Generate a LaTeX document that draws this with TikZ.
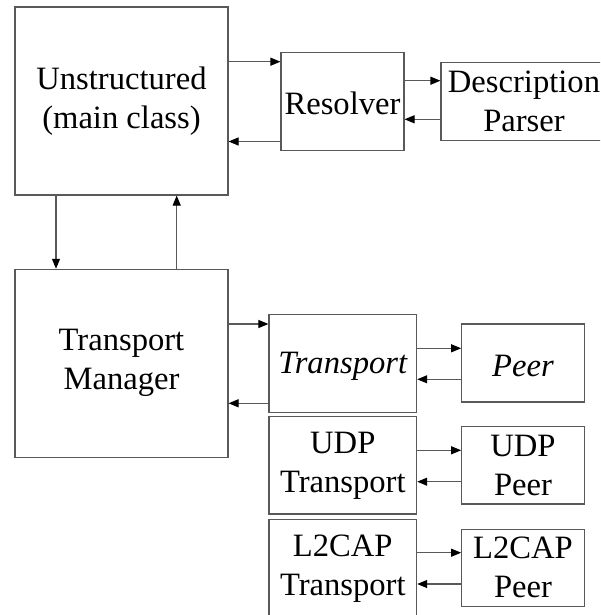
\documentclass[tikz,border=0pt]{standalone}
\usepackage{fontspec}
\setmainfont{Liberation Serif}
\usetikzlibrary{arrows.meta}
\begin{document}
\begin{tikzpicture}[x=1pt,y=-1pt,
  box/.style={draw=black!65,line width=1.1pt,inner sep=0pt,align=center,
    font=\fontsize{32.6}{39}\selectfont,text=black,
    execute at begin node={\rule{0pt}{27.5pt}}},
  arr/.style={draw=black!65,line width=1.1pt,
    -{Triangle[length=10pt,width=8pt,color=black]}}]
\useasboundingbox (0,0) rectangle (600,615);
\clip (0,0) rectangle (600,615);
\fill[white] (0,0) rectangle (600,615);

% main blocks
\node[box,minimum width=213pt,minimum height=188pt] (uns) at (121.5,101) {Unstructured\\(main class)};
\node[box,minimum width=213pt,minimum height=188pt] (tm) at (121.5,363.3) {Transport\\Manager};

% resolver chain
\node[box,minimum width=123pt,minimum height=98pt] (res) at (342.5,101.2) {Resolver};
\node[box,minimum width=166pt,minimum height=78pt] (desc) at (524,101.2) {Description\\Parser};

% transports
\node[box,minimum width=147.7pt,minimum height=98pt] (tr) at (342.8,363.3) {\itshape Transport};
\node[box,minimum width=147.7pt,minimum height=97.3pt] (udpt) at (342.8,465.3) {UDP\\Transport};
\node[box,minimum width=147.7pt,minimum height=98pt] (l2t) at (342.8,568.3) {L2CAP\\Transport};

% peers
\node[box,minimum width=122.6pt,minimum height=78pt] (peer) at (523,363) {\itshape Peer};
\node[box,minimum width=122.6pt,minimum height=77.3pt] (udpp) at (523,465.3) {UDP\\Peer};
\node[box,minimum width=122.6pt,minimum height=77pt] (l2p) at (523,567.7) {L2CAP\\Peer};

% connectors
\draw[arr] (uns.east |- 0,61.7) -- (res.west |- 0,61.7);
\draw[arr] (res.west |- 0,141.5) -- (uns.east |- 0,141.5);
\draw[arr] (res.east |- 0,80.7) -- (desc.west |- 0,80.7);
\draw[arr] (desc.west |- 0,119.3) -- (res.east |- 0,119.3);

\draw[arr] (uns.south -| 56,0) -- (tm.north -| 56,0);
\draw[arr] (tm.north -| 176.7,0) -- (uns.south -| 176.7,0);

\draw[arr] (tm.east |- 0,324) -- (tr.west |- 0,324);
\draw[arr] (tr.west |- 0,403.3) -- (tm.east |- 0,403.3);

\draw[arr] (tr.east |- 0,348.3) -- (peer.west |- 0,348.3);
\draw[arr] (peer.west |- 0,379.3) -- (tr.east |- 0,379.3);
\draw[arr] (udpt.east |- 0,450.3) -- (udpp.west |- 0,450.3);
\draw[arr] (udpp.west |- 0,481.7) -- (udpt.east |- 0,481.7);
\draw[arr] (l2t.east |- 0,552.7) -- (l2p.west |- 0,552.7);
\draw[arr] (l2p.west |- 0,584) -- (l2t.east |- 0,584);
\end{tikzpicture}
\end{document}
